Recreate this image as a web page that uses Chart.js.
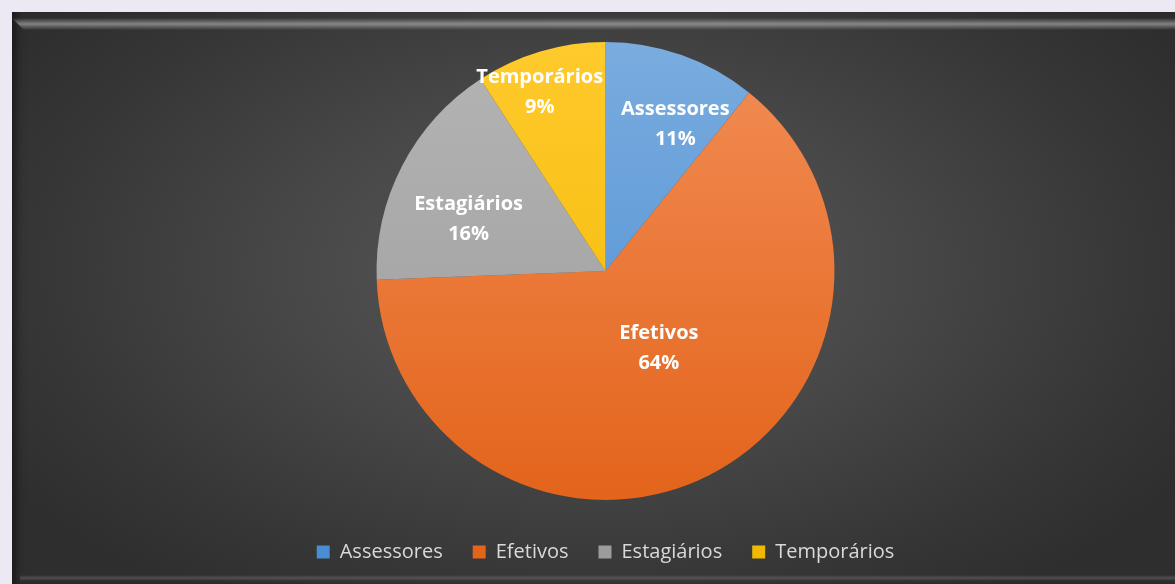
<!DOCTYPE html>
<html>
<head>
<meta charset="utf-8">
<script src="https://cdn.jsdelivr.net/npm/chart.js@4.4.1/dist/chart.umd.min.js"></script>
<style>
    html, body { margin: 0; padding: 0; background: #ece9f5; }
    body { width: 1175px; height: 584px; overflow: hidden; position: relative; }
    #frame {
        position: absolute; left: 12px; top: 12px; width: 1163px; height: 572px;
        background: radial-gradient(ellipse 60% 70% at 50% 45%, #5a5a5a 0%, #474747 45%, #363636 80%, #2e2e2e 100%);
        box-shadow: inset 8px 0 8px -4px rgba(0,0,0,0.45);
    }
    #bevel-top {
        position: absolute; left: 12px; top: 18px; width: 1163px; height: 12px;
        background: linear-gradient(to bottom, rgba(255,255,255,0) 0%, rgba(200,200,200,0.55) 50%, rgba(255,255,255,0) 100%);
        clip-path: polygon(0 0, 100% 0, 100% 100%, 12px 100%);
    }
    #bevel-bottom {
        position: absolute; left: 20px; top: 575px; width: 1155px; height: 6px;
        background: linear-gradient(to bottom, rgba(255,255,255,0) 0%, rgba(140,140,140,0.35) 50%, rgba(255,255,255,0) 100%);
    }
    #wrap { position: absolute; left: 12px; top: 12px; width: 1163px; height: 572px; }
</style>
</head>
<body>
<div id="frame"></div>
<div id="bevel-top"></div>
<div id="bevel-bottom"></div>
<div id="wrap"><canvas id="pieChart"></canvas></div>
<script>
    const categories = ["Assessores", "Efetivos", "Estagiários", "Temporários"];
    const shares = [10.8, 63.6, 16.4, 9.2];
    const lightColors = ["#7aacdf", "#f28d55", "#b4b4b4", "#ffca2c"];
    const darkColors = ["#4a8dd3", "#e3641b", "#9c9c9c", "#f0b800"];
    // label placement inside each slice (fraction of radius, angle nudge in degrees)
    const labelRadius = [0.71, 0.41, 0.64, 0.83];
    const labelNudge = [6, -8, -6.5, -3.7];

    function sliceFill(context) {
        const chart = context.chart;
        const area = chart.chartArea;
        const i = context.dataIndex;
        if (!area) return darkColors[i];
        const g = chart.ctx.createLinearGradient(0, area.top + 12, 0, area.bottom - 12);
        g.addColorStop(0, lightColors[i]);
        g.addColorStop(1, darkColors[i]);
        return g;
    }

    // draws "Name\nNN%" inside each slice
    const sliceLabels = {
        id: "sliceLabels",
        afterDatasetsDraw(chart) {
            const ctx = chart.ctx;
            const meta = chart.getDatasetMeta(0);
            const total = shares.reduce((a, b) => a + b, 0);
            ctx.save();
            ctx.fillStyle = "#ffffff";
            ctx.textAlign = "center";
            ctx.textBaseline = "middle";
            ctx.font = "bold 20px 'Open Sans'";
            meta.data.forEach((arc, i) => {
                const mid = (arc.startAngle + arc.endAngle) / 2 + labelNudge[i] * Math.PI / 180;
                const r = arc.outerRadius * labelRadius[i];
                const x = arc.x + Math.cos(mid) * r;
                const y = arc.y + Math.sin(mid) * r;
                ctx.fillText(categories[i], x, y - 15);
                ctx.fillText(Math.round(shares[i] / total * 100) + "%", x, y + 15);
            });
            ctx.restore();
        }
    };

    const ctx = document.getElementById("pieChart").getContext("2d");
    new Chart(ctx, {
        type: "pie",
        data: {
            labels: categories,
            datasets: [{
                data: shares,
                backgroundColor: sliceFill,
                borderWidth: 0,
                radius: "95%"
            }]
        },
        options: {
            responsive: true,
            maintainAspectRatio: false,
            animation: false,
            layout: { padding: { top: 18, left: 24, right: 0, bottom: 12 } },
            plugins: {
                legend: {
                    position: "bottom",
                    labels: {
                        color: "#d9d9d9",
                        font: { family: "'Open Sans'", size: 20 },
                        boxWidth: 13,
                        boxHeight: 13,
                        padding: 30,
                        generateLabels(chart) {
                            return categories.map((c, i) => ({
                                text: c,
                                fillStyle: darkColors[i],
                                strokeStyle: darkColors[i],
                                lineWidth: 0,
                                fontColor: "#d9d9d9",
                                index: i
                            }));
                        }
                    }
                },
                tooltip: { enabled: false }
            }
        },
        plugins: [sliceLabels]
    });
</script>
</body>
</html>
